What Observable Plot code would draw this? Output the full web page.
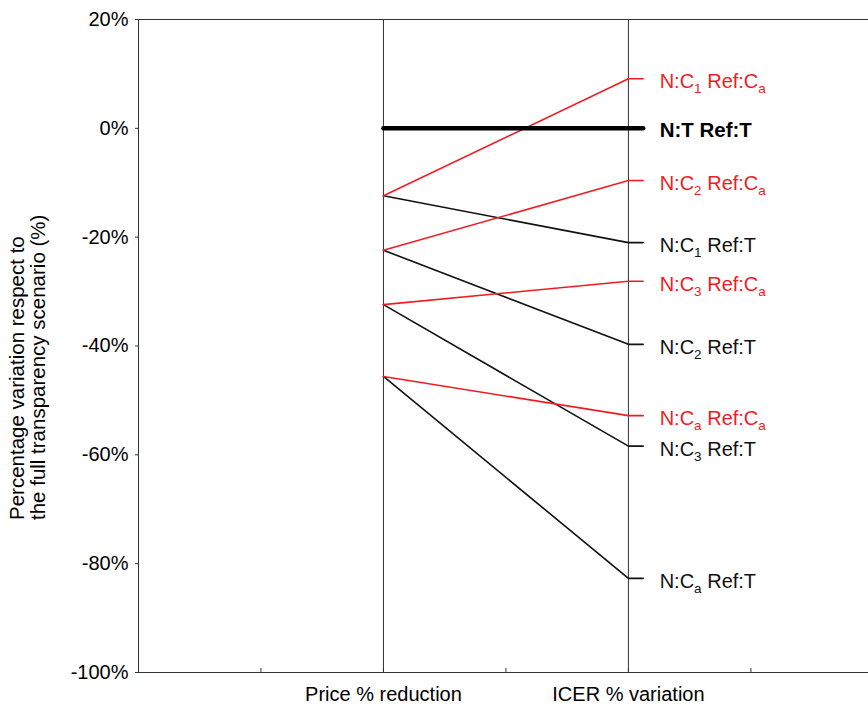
<!DOCTYPE html>
<html><head><meta charset="utf-8">
<script src="https://cdn.jsdelivr.net/npm/d3@7"></script>
<script src="https://cdn.jsdelivr.net/npm/@observablehq/plot@0.6"></script>
<style>body{margin:0;background:#fff;} svg{display:block;}</style>
</head><body><div id="chart"></div>
<script>
// ---- data ----
const nScenarios = ["C_1", "C_2", "C_3", "C_a"];          // N: scenario
const priceReduction = [-12.4, -22.4, -32.4, -45.6];       // Price % reduction
const icerRefCa = [9.1, -9.6, -28.1, -52.8];               // ICER % variation, Ref:Ca
const icerRefT = [-21.0, -39.7, -58.4, -82.7];             // ICER % variation, Ref:T
const baselineName = "N:T Ref:T";
const baselinePrice = 0;
const baselineIcer = 0;
const axisCategories = ["Price % reduction", "ICER % variation"];
const categoryPos = [2, 4];
const xGridTicks = [0, 1, 2, 3, 4, 5];
const yTicks = [20, 0, -20, -40, -60, -80, -100];
const yTitle = "Percentage variation respect to\nthe full transparency scenario (%)";

// ---- styling ----
const RED = "#ee1d23";
const INK = "#111";
const FONT = "'Liberation Sans', Arial, sans-serif";
const stubX = 4.12, labelX = 4.255;

const series = [];
nScenarios.forEach((n, i) => {
  series.push({name: `N:${n} Ref:C_a`, ref: "Ca", price: priceReduction[i], icer: icerRefCa[i]});
  series.push({name: `N:${n} Ref:T`, ref: "T", price: priceReduction[i], icer: icerRefT[i]});
});
const base = {name: baselineName, ref: "base", price: baselinePrice, icer: baselineIcer};
const toRows = s => [
  {x: categoryPos[0], y: s.price, name: s.name},
  {x: categoryPos[1], y: s.icer, name: s.name},
  {x: stubX, y: s.icer, name: s.name}
];
const redRows = series.filter(s => s.ref === "Ca").flatMap(toRows);
const blackRows = series.filter(s => s.ref === "T").flatMap(toRows);
const baseRows = toRows(base);

const chart = Plot.plot({
  width: 868,
  height: 705,
  marginLeft: 138,
  marginRight: 0,
  marginTop: 19,
  marginBottom: 33,
  style: {fontFamily: FONT, fontSize: "20px", color: "#000", background: "#fff"},
  x: {domain: [0, 5.96], axis: null},
  y: {domain: [-100, 20], axis: null},
  marks: [
    // frame lines
    Plot.ruleY([20, -100], {stroke: "#333", strokeWidth: 1}),
    Plot.ruleX([0], {stroke: "#333", strokeWidth: 1}),
    Plot.ruleX(categoryPos, {stroke: "#333", strokeWidth: 1}),
    // inward x ticks
    Plot.axisX(xGridTicks, {anchor: "bottom", tickSize: 4, dy: -4, tickFormat: () => "", stroke: "#333", label: null}),
    // x category labels
    Plot.axisX(categoryPos, {anchor: "bottom", tickSize: 0, tickPadding: 14, fontSize: 20,
      tickFormat: (d) => axisCategories[categoryPos.indexOf(d)], label: null}),
    // y axis
    Plot.axisY(yTicks, {anchor: "left", tickSize: 3, tickPadding: 7, fontSize: 20,
      tickFormat: d => d + "%", stroke: "#333", label: null}),
    // y title
    Plot.text([yTitle], {frameAnchor: "left", rotate: -90, textAnchor: "start", lineAnchor: "middle",
      lineHeight: 1.05, fontSize: 20.5, dx: -111, dy: 174, fill: "#000"}),
    // series lines
    Plot.line(blackRows, {x: "x", y: "y", z: "name", stroke: INK, strokeWidth: 1.6}),
    Plot.line(redRows, {x: "x", y: "y", z: "name", stroke: RED, strokeWidth: 1.6}),
    Plot.line(baseRows, {x: "x", y: "y", stroke: "#000", strokeWidth: 4.5}),
    // labels
    Plot.text(series.filter(s => s.ref === "Ca"), {x: () => labelX, y: "icer", text: "name", fill: RED,
      textAnchor: "start", fontSize: 20, dy: 3}),
    Plot.text(series.filter(s => s.ref === "T"), {x: () => labelX, y: "icer", text: "name", fill: INK,
      textAnchor: "start", fontSize: 20, dy: 3}),
    Plot.text([base], {x: () => labelX, y: "icer", text: "name", fill: "#000",
      textAnchor: "start", fontSize: 20.5, fontWeight: "bold", dy: 2})
  ]
});

// subscripts: "C_1" -> C with subscript 1
chart.querySelectorAll("text").forEach(t => {
  const s = t.textContent;
  if (!s.includes("_")) return;
  t.textContent = "";
  const parts = s.split(/_(.)/);
  const NS = "http://www.w3.org/2000/svg";
  let shifted = false;
  parts.forEach((p, k) => {
    if (!p) return;
    const ts = document.createElementNS(NS, "tspan");
    ts.textContent = p;
    if (k % 2 === 1) {
      ts.setAttribute("font-size", "13.5");
      ts.setAttribute("dy", "5");
      shifted = true;
    } else if (shifted) {
      ts.setAttribute("dy", "-5");
      shifted = false;
    }
    t.appendChild(ts);
  });
});

document.getElementById("chart").appendChild(chart);
</script>
</body></html>
